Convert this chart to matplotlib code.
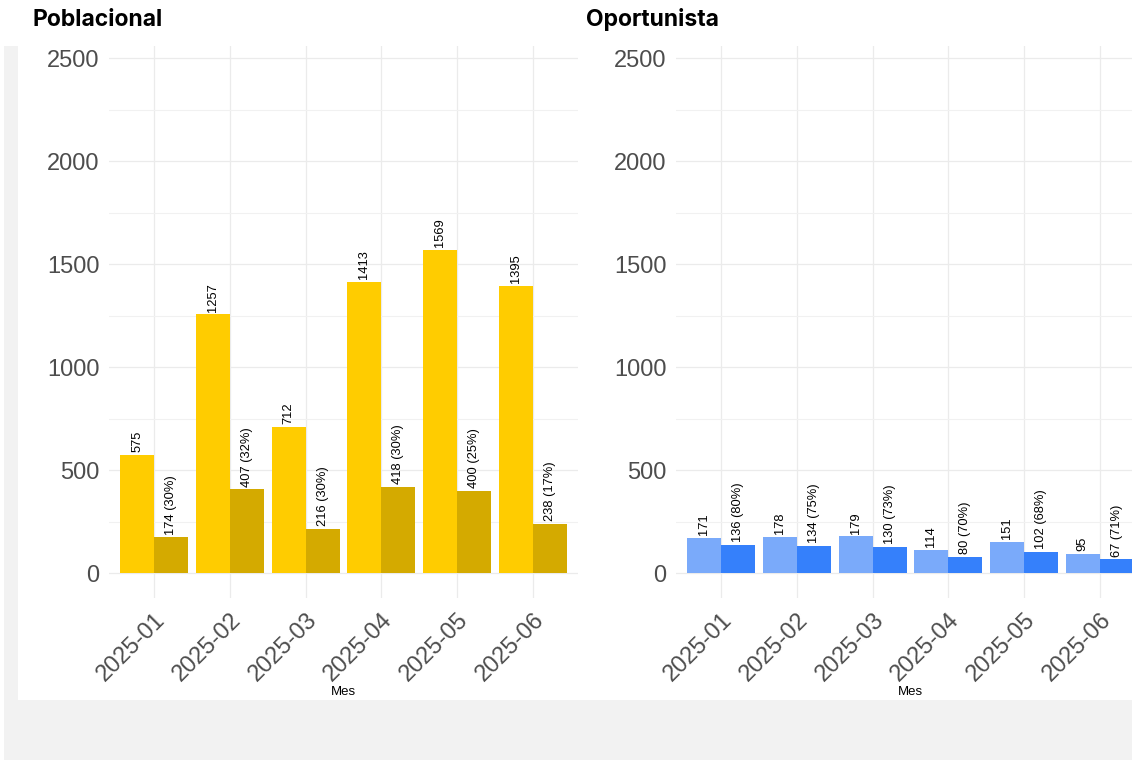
import matplotlib.pyplot as plt
from matplotlib.patches import Rectangle
import numpy as np

# monthly data
months = ["2025-01", "2025-02", "2025-03", "2025-04", "2025-05", "2025-06"]
pob_total = [575, 1257, 712, 1413, 1569, 1395]
pob_sub = [174, 407, 216, 418, 400, 238]
pob_pct = [30, 32, 30, 30, 25, 17]
opo_total = [171, 178, 179, 114, 151, 95]
opo_sub = [136, 134, 130, 80, 102, 67]
opo_pct = [80, 75, 73, 70, 68, 71]

plt.rcParams['font.family'] = ['Liberation Sans', 'DejaVu Sans']

W, H = 1132, 760
fig = plt.figure(figsize=(W / 100, H / 100), dpi=100)

# light grey frame on the left and bottom
bg = "#f2f2f2"
fig.patches.append(Rectangle((4 / W, 0), 14 / W, (760 - 46) / H, transform=fig.transFigure,
                             facecolor=bg, edgecolor="none", zorder=0))
fig.patches.append(Rectangle((4 / W, 0), 1, 60 / H, transform=fig.transFigure,
                             facecolor=bg, edgecolor="none", zorder=0))

AX_TOP, AX_BOT = 46, 598


def draw_panel(left_px, title, title_x, totals, subs, pcts, c_light, c_dark):
    ax = fig.add_axes([left_px / W, (H - AX_BOT) / H, 469 / W, (AX_BOT - AX_TOP) / H])
    ax.set_facecolor("none")
    x = np.arange(len(months))
    w = 0.45
    ax.bar(x - w / 2, totals, width=w, color=c_light, zorder=2)
    ax.bar(x + w / 2, subs, width=w, color=c_dark, zorder=2)

    for xi, t, s, p in zip(x, totals, subs, pcts):
        ax.annotate(str(t), (xi - w / 2, t), xytext=(0, 2), textcoords="offset points",
                    rotation=90, ha="center", va="bottom", fontsize=9.3, color="black")
        ax.annotate(f"{s} ({p}%)", (xi + w / 2, s), xytext=(0, 2), textcoords="offset points",
                    rotation=90, ha="center", va="bottom", fontsize=9.3, color="black")

    ax.set_xlim(-0.6, 5.6)
    ax.set_ylim(-120, 2560)
    ax.set_yticks([0, 500, 1000, 1500, 2000, 2500])
    ax.set_yticks(np.arange(250, 2500, 500), minor=True)
    ax.set_xticks(x)
    ax.set_xticklabels(months, rotation=45, ha="right", rotation_mode="anchor")
    ax.tick_params(axis="both", which="both", length=0, labelsize=17, labelcolor="#4d4d4d")
    ax.tick_params(axis="y", pad=7)
    ax.tick_params(axis="x", pad=8)

    ax.grid(True, which="major", color="#ebebeb", linewidth=0.9, zorder=0)
    ax.grid(True, which="minor", axis="y", color="#f1f1f1", linewidth=0.8, zorder=0)
    for sp in ax.spines.values():
        sp.set_visible(False)

    ax.set_xlabel("Mes", fontsize=9.5, color="black")
    ax.xaxis.set_label_coords(0.5, -(692 - AX_BOT) / (AX_BOT - AX_TOP))
    ax.xaxis.label.set_va("center")

    fig.text(title_x / W, 1 - 26 / H, title, fontsize=16.5, fontweight="bold",
             family=["Inter", "DejaVu Sans"], ha="left", va="baseline", color="black")
    return ax


draw_panel(109, "Poblacional", 33, pob_total, pob_sub, pob_pct, "#ffcc00", "#d4aa00")
draw_panel(676, "Oportunista", 586, opo_total, opo_sub, opo_pct, "#7aaafa", "#3580fb")

fig.savefig("out.png", dpi=100, facecolor="white")
